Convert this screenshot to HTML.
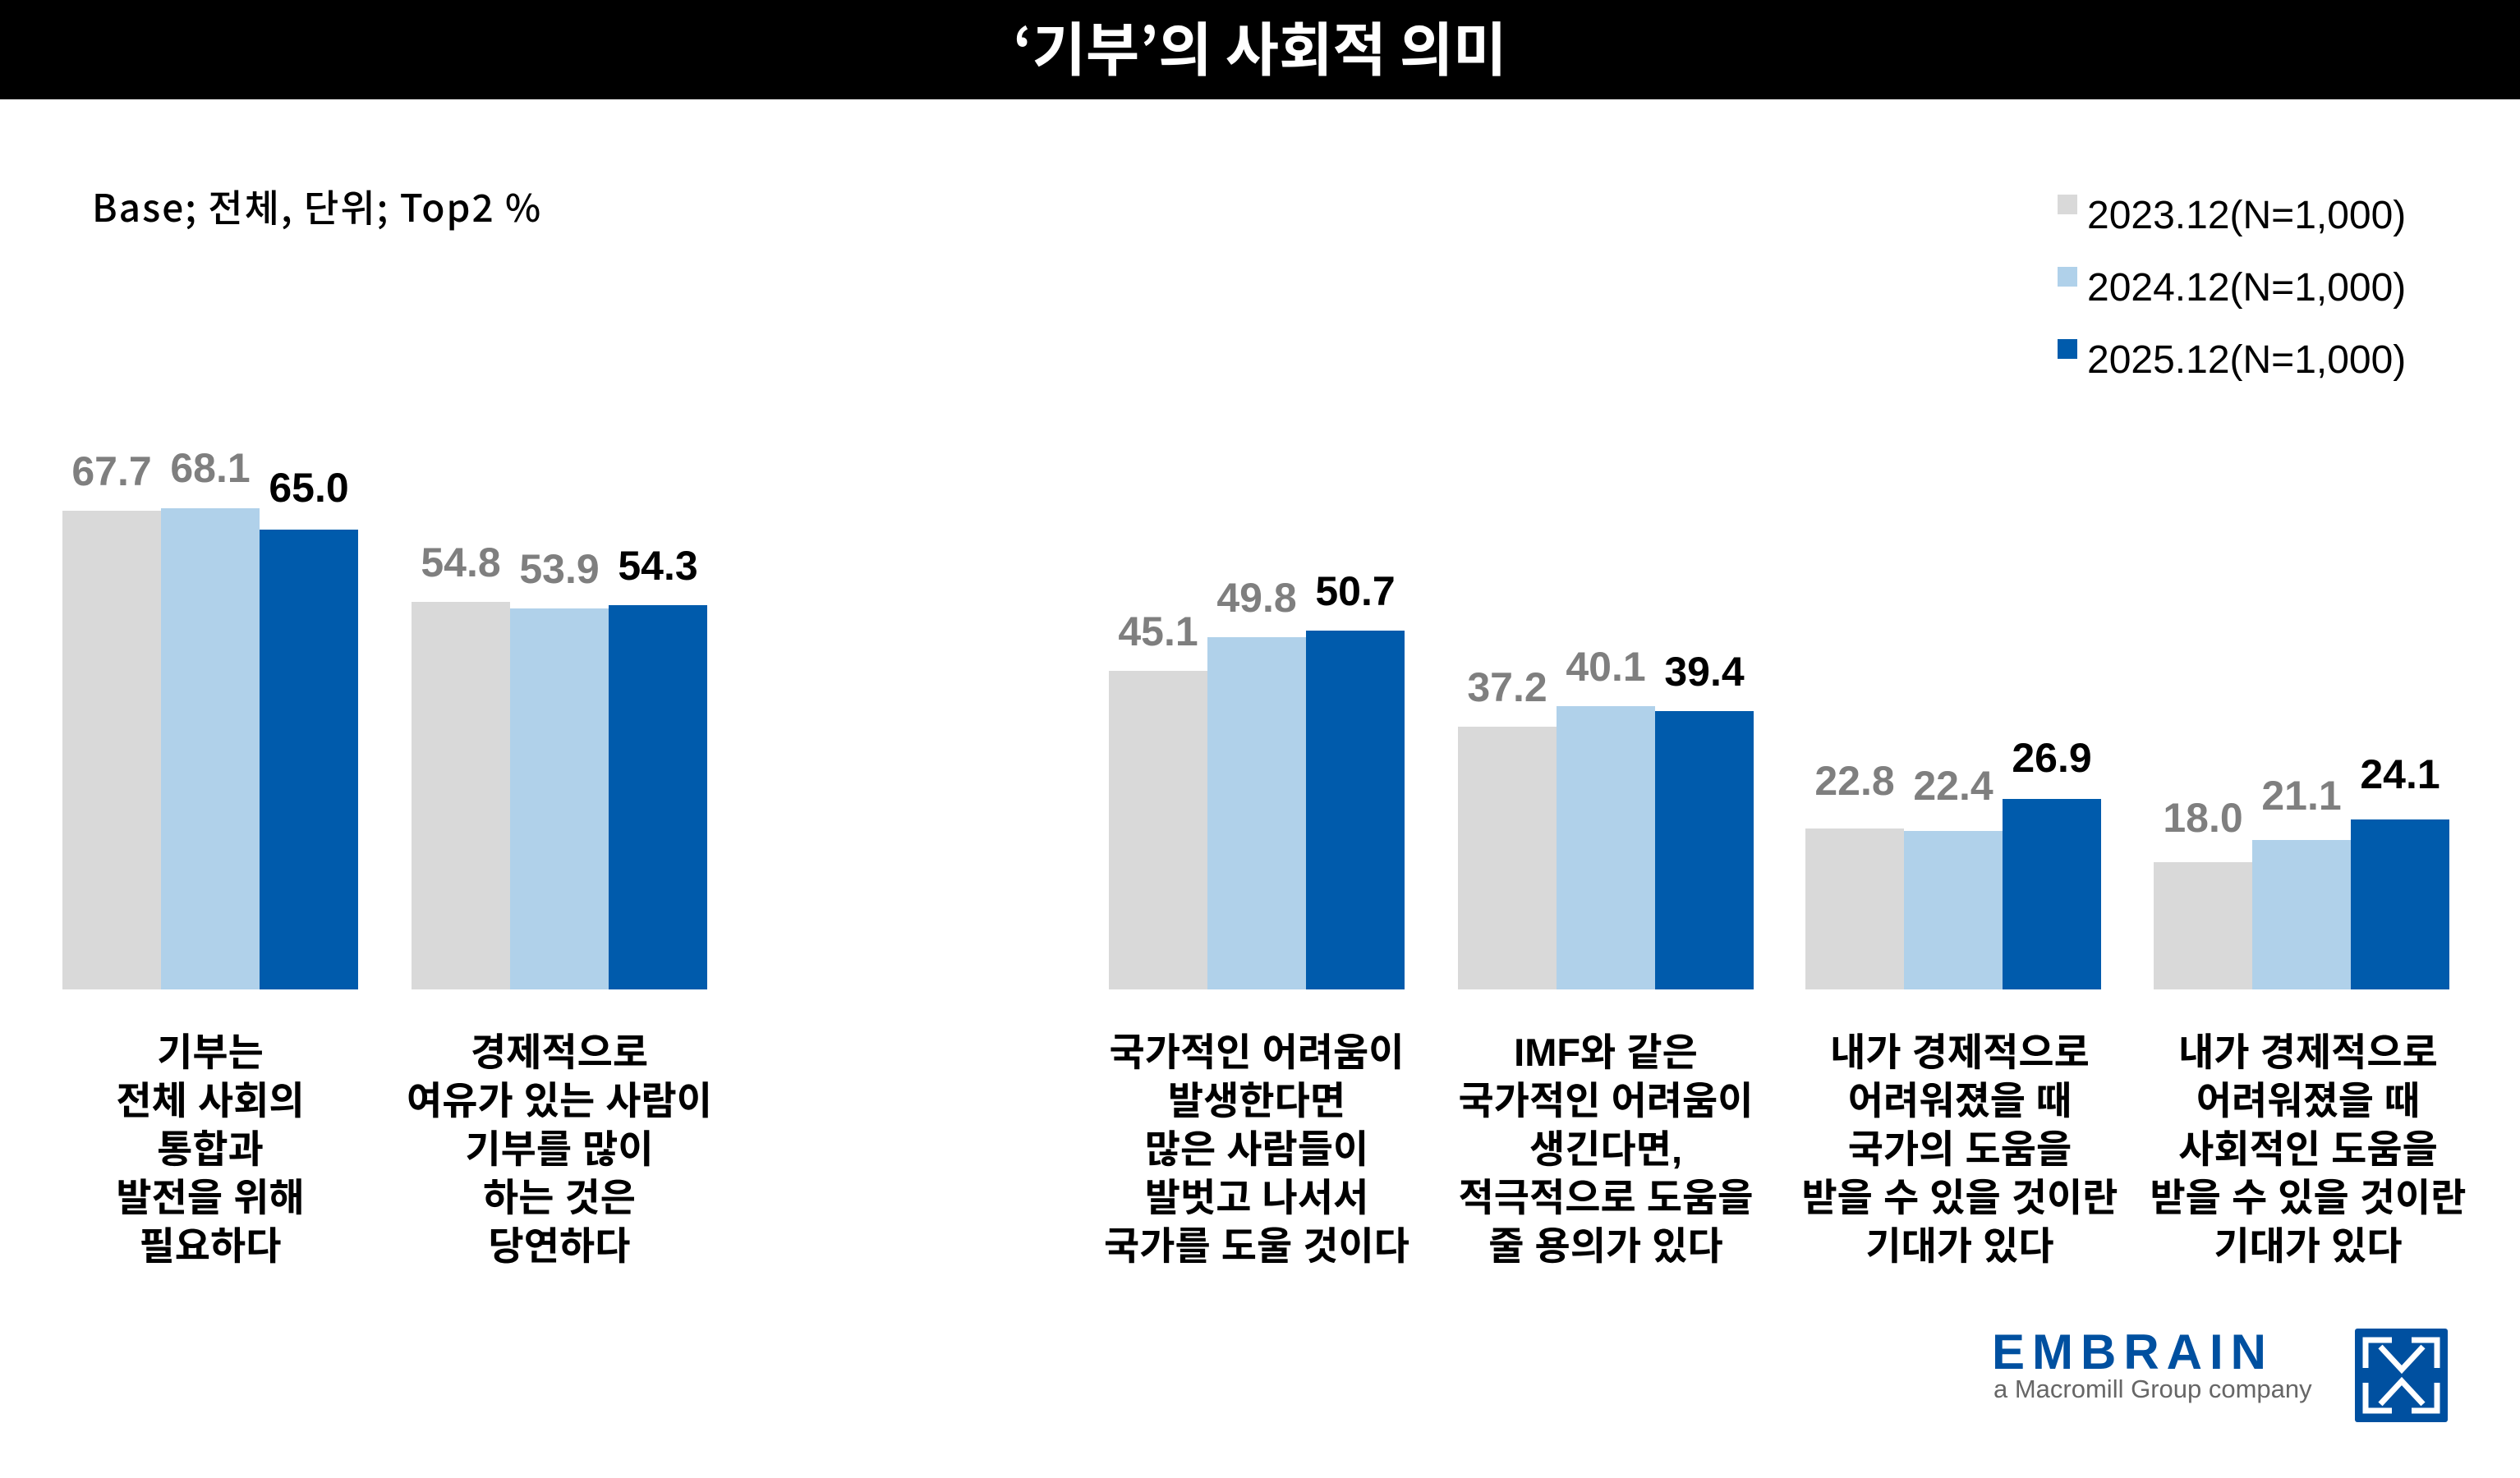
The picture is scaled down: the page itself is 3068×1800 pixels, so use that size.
<!DOCTYPE html>
<html><head><meta charset="utf-8"><style>
html,body{margin:0;padding:0;background:#fff}
svg{display:block}
text{font-family:"Liberation Sans","Noto Sans CJK KR",sans-serif}
.k{font-family:"Noto Sans CJK KR","Liberation Sans",sans-serif}
</style></head><body>
<svg width="3068" height="1800" viewBox="0 0 3068 1800" xmlns="http://www.w3.org/2000/svg">
<rect x="0" y="0" width="3068" height="121" fill="#000"/>
<text class="k" x="1534" y="86" font-size="71" font-weight="700" fill="#fff" text-anchor="middle">‘기부’의 사회적 의미</text>
<text class="k" x="112" y="270" font-size="46" font-weight="500" fill="#000" letter-spacing="2">Base; 전체, 단위; Top2 %</text>
<g class="k" font-size="48" font-weight="500" fill="#000">
<rect x="2505" y="237" width="24" height="24" fill="#d9d9d9"/><text x="2541" y="278">2023.12(N=1,000)</text>
<rect x="2505" y="325" width="24" height="24" fill="#b0d1ea"/><text x="2541" y="366">2024.12(N=1,000)</text>
<rect x="2505" y="413" width="24" height="24" fill="#005bac"/><text x="2541" y="454">2025.12(N=1,000)</text>
</g>
<g>
<rect x="76" y="622" width="120" height="583" fill="#d9d9d9"/>
<rect x="196" y="619" width="120" height="586" fill="#b0d1ea"/>
<rect x="316" y="645" width="120" height="560" fill="#005bac"/>
<rect x="501" y="733" width="120" height="472" fill="#d9d9d9"/>
<rect x="621" y="741" width="120" height="464" fill="#b0d1ea"/>
<rect x="741" y="737" width="120" height="468" fill="#005bac"/>
<rect x="1350" y="817" width="120" height="388" fill="#d9d9d9"/>
<rect x="1470" y="776" width="120" height="429" fill="#b0d1ea"/>
<rect x="1590" y="768" width="120" height="437" fill="#005bac"/>
<rect x="1775" y="885" width="120" height="320" fill="#d9d9d9"/>
<rect x="1895" y="860" width="120" height="345" fill="#b0d1ea"/>
<rect x="2015" y="866" width="120" height="339" fill="#005bac"/>
<rect x="2198" y="1009" width="120" height="196" fill="#d9d9d9"/>
<rect x="2318" y="1012" width="120" height="193" fill="#b0d1ea"/>
<rect x="2438" y="973" width="120" height="232" fill="#005bac"/>
<rect x="2622" y="1050" width="120" height="155" fill="#d9d9d9"/>
<rect x="2742" y="1023" width="120" height="182" fill="#b0d1ea"/>
<rect x="2862" y="998" width="120" height="207" fill="#005bac"/>
</g>
<g font-size="50" font-weight="700" text-anchor="middle" fill="#7f7f7f">
<text x="136" y="591">67.7</text><text x="256" y="587">68.1</text><text x="376" y="611" fill="#000">65.0</text>
<text x="561" y="702">54.8</text><text x="681" y="710">53.9</text><text x="801" y="706" fill="#000">54.3</text>
<text x="1410" y="786">45.1</text><text x="1530" y="745">49.8</text><text x="1650" y="737" fill="#000">50.7</text>
<text x="1835" y="854">37.2</text><text x="1955" y="829">40.1</text><text x="2075" y="835" fill="#000">39.4</text>
<text x="2258" y="968">22.8</text><text x="2378" y="974">22.4</text><text x="2498" y="940" fill="#000">26.9</text>
<text x="2682" y="1013">18.0</text><text x="2802" y="986">21.1</text><text x="2922" y="960" fill="#000">24.1</text>
</g>
<g class="k" font-size="47" font-weight="700" fill="#000" text-anchor="middle">
<text x="256" y="1298">기부는</text><text x="256" y="1357">전체 사회의</text><text x="256" y="1416">통합과</text><text x="256" y="1475">발전을 위해</text><text x="256" y="1534">필요하다</text>
<text x="681" y="1298">경제적으로</text><text x="681" y="1357">여유가 있는 사람이</text><text x="681" y="1416">기부를 많이</text><text x="681" y="1475">하는 것은</text><text x="681" y="1534">당연하다</text>
<text x="1530" y="1298">국가적인 어려움이</text><text x="1530" y="1357">발생한다면</text><text x="1530" y="1416">많은 사람들이</text><text x="1530" y="1475">발벗고 나서서</text><text x="1530" y="1534">국가를 도울 것이다</text>
<text x="1955" y="1298">IMF와 같은</text><text x="1955" y="1357">국가적인 어려움이</text><text x="1955" y="1416">생긴다면,</text><text x="1955" y="1475">적극적으로 도움을</text><text x="1955" y="1534">줄 용의가 있다</text>
<text x="2386" y="1298">내가 경제적으로</text><text x="2386" y="1357">어려워졌을 때</text><text x="2386" y="1416">국가의 도움을</text><text x="2386" y="1475">받을 수 있을 것이란</text><text x="2386" y="1534">기대가 있다</text>
<text x="2810" y="1298">내가 경제적으로</text><text x="2810" y="1357">어려워졌을 때</text><text x="2810" y="1416">사회적인 도움을</text><text x="2810" y="1475">받을 수 있을 것이란</text><text x="2810" y="1534">기대가 있다</text>
</g>
<text x="2425" y="1667" font-size="60" font-weight="700" fill="#0050a0" letter-spacing="9">EMBRAIN</text>
<text x="2427" y="1702" font-size="31" fill="#666">a Macromill Group company</text>
<rect x="2867" y="1618" width="113" height="114" rx="3" fill="#0050a0"/>
<g fill="none" stroke="#fff" stroke-width="7">
<polyline points="2880,1666 2880,1632 2912,1632"/>
<polyline points="2936,1632 2967,1632 2967,1666"/>
<polyline points="2880,1684 2880,1718 2912,1718"/>
<polyline points="2936,1718 2967,1718 2967,1684"/>
<polyline points="2898,1640 2924,1668 2950,1640"/>
<polyline points="2898,1710 2924,1682 2950,1710"/>
</g>
</svg>
</body></html>
